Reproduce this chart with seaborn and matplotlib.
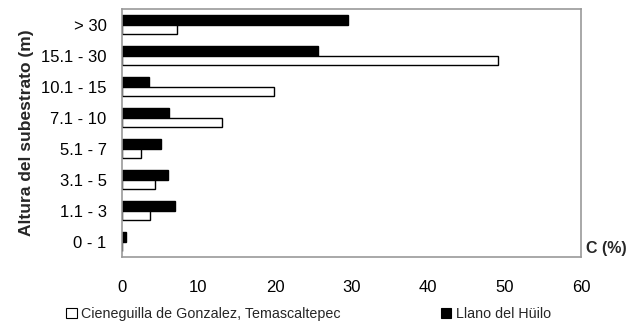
import numpy as np
import pandas as pd
import seaborn as sns
import matplotlib
matplotlib.use("Agg")
import matplotlib.pyplot as plt
from matplotlib.patches import Patch

# height classes of the substrate, top to bottom as in the figure
clases = ['> 30', '15.1 - 30', '10.1 - 15', '7.1 - 10', '5.1 - 7', '3.1 - 5', '1.1 - 3', '0 - 1']
# cover (%) per site
cieneguilla = [7.2, 49.1, 19.9, 13.1, 2.5, 4.3, 3.7, 0.0]
llano = [29.5, 25.6, 3.5, 6.1, 5.1, 6.0, 6.9, 0.5]

sitio_1 = 'Cieneguilla de Gonzalez, Temascaltepec'
sitio_2 = 'Llano del Hüilo'

df = pd.DataFrame({
    'clase': clases * 2,
    'C': llano + cieneguilla,
    'sitio': [sitio_2] * len(clases) + [sitio_1] * len(clases),
})

sns.set_style('white')
plt.rcParams['font.family'] = ['Liberation Sans', 'DejaVu Sans']

fig = plt.figure(figsize=(6.37, 3.29), dpi=100)
ax = fig.add_axes([0.1915, 0.2188, 0.7205, 0.7538])

sns.barplot(data=df, x='C', y='clase', hue='sitio', order=clases,
            hue_order=[sitio_2, sitio_1], palette=['black', 'white'],
            orient='h', width=0.63, edgecolor='black', linewidth=1,
            legend=False, ax=ax)

ax.set_xlim(0, 60)
ax.set_xticks([0, 10, 20, 30, 40, 50, 60])
ax.tick_params(axis='both', length=0, labelsize=12, colors='black')
ax.tick_params(axis='x', pad=16.5)
ax.tick_params(axis='y', pad=11)
for s in ax.spines.values():
    s.set_color('#999999')
    s.set_linewidth(1.2)
ax.set_xlabel('')
ax.set_ylabel('Altura del subestrato (m)', fontsize=12.5, fontweight='bold', labelpad=5)
ax.text(1.012, 0.035, 'C (%)', transform=ax.transAxes, fontsize=11.5,
        fontweight='bold', ha='left', va='center')

handles = [Patch(facecolor='white', edgecolor='black', linewidth=0.8),
           Patch(facecolor='black', edgecolor='black', linewidth=0.8)]
fig.legend(handles, [sitio_1, sitio_2], loc='center', bbox_to_anchor=(0.484, 0.045),
           ncol=2, frameon=False, fontsize=10.3, handlelength=0.75, handleheight=0.75,
           handletextpad=0.3, columnspacing=7)

fig.savefig('out.png', dpi=100)
